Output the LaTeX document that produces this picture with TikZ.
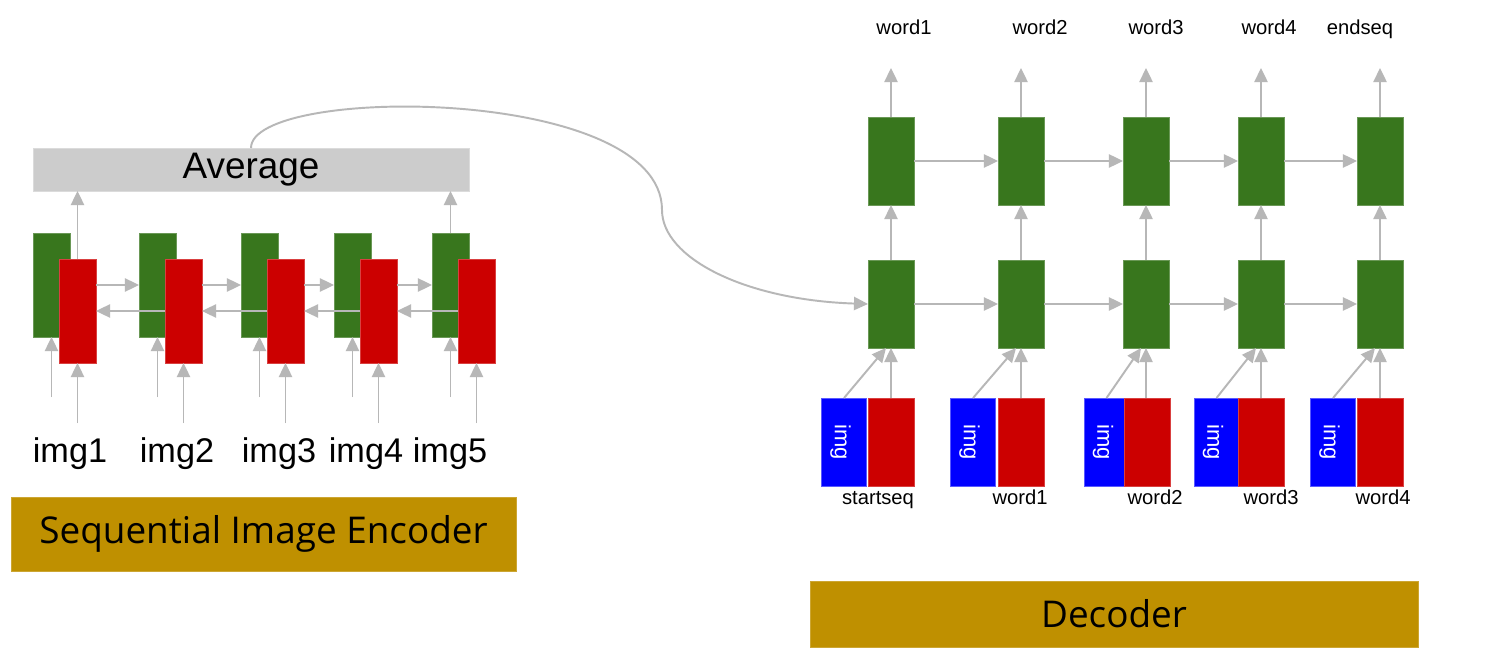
\documentclass[tikz,border=0pt]{standalone}
\usepackage{fontspec}
\setmainfont{Liberation Sans}
\newfontfamily\titlefont{Open Sans}
\usetikzlibrary{arrows.meta}
\definecolor{lstmgreen}{HTML}{38761D}
\definecolor{lstmred}{HTML}{CC0000}
\definecolor{imgblue}{HTML}{0000FF}
\definecolor{avggray}{HTML}{CCCCCC}
\definecolor{bannergold}{HTML}{BF9000}
\definecolor{arrowgray}{HTML}{B7B7B7}
\tikzset{
	cell/.style={inner sep=0, outer sep=0, line width=0.4pt},
	encg/.style={cell, fill=lstmgreen, draw=lstmgreen!75!white, minimum width=0.74cm, minimum height=2.08cm},
	encr/.style={cell, fill=lstmred, draw=lstmred!75!white, minimum width=0.74cm, minimum height=2.08cm},
	decg/.style={cell, fill=lstmgreen, draw=lstmgreen!75!white, minimum width=0.92cm, minimum height=1.76cm},
	decr/.style={cell, fill=lstmred, draw=lstmred!75!white, minimum width=0.92cm, minimum height=1.76cm},
	decb/.style={cell, fill=imgblue, draw=imgblue!65!white, minimum width=0.9cm, minimum height=1.76cm},
	imgtag/.style={text=white, rotate=-90, font=\fontsize{12.5}{14}\selectfont},
	arr/.style={-{Triangle[length=8pt,width=7.5pt]}, line width=1.1pt, draw=arrowgray},
	word/.style={anchor=base, font=\fontsize{11.5}{13}\selectfont},
	imglabel/.style={anchor=base, font=\fontsize{19.5}{22}\selectfont},
	banner/.style={cell, fill=bannergold, draw=bannergold!80!white, font=\titlefont\fontsize{21}{24}\selectfont}
}

\begin{document}
\begin{tikzpicture}[x=0.02cm, y=-0.02cm]
			%%%%% START %%%%%
			
			\fill[white] (0, 0) rectangle (1493, 662);
			\useasboundingbox (0, 0) rectangle (1493, 662);
			
			%% encoder
			\node[cell, fill=avggray, draw=avggray!70!white, minimum width=8.72cm, minimum height=0.86cm, font=\fontsize{21}{24}\selectfont] (avg) at (251, 169.5) {Average};
			
			\node[encg] (eg1) at (51.5, 285) {};
			\node[encg] (eg2) at (157.5, 285) {};
			\node[encg] (eg3) at (259.5, 285) {};
			\node[encg] (eg4) at (352.5, 285) {};
			\node[encg] (eg5) at (450.5, 285) {};
			
			\node[encr] (er1) at (77.5, 311) {};
			\node[encr] (er2) at (183.5, 311) {};
			\node[encr] (er3) at (285.5, 311) {};
			\node[encr] (er4) at (378.5, 311) {};
			\node[encr] (er5) at (476.5, 311) {};
			
			\coordinate (ginrow) at (0, 397);
			\coordinate (rinrow) at (0, 423);
			
			\draw[arr] (eg1.south |- ginrow) -- (eg1.south);
			\draw[arr] (eg2.south |- ginrow) -- (eg2.south);
			\draw[arr] (eg3.south |- ginrow) -- (eg3.south);
			\draw[arr] (eg4.south |- ginrow) -- (eg4.south);
			\draw[arr] (eg5.south |- ginrow) -- (eg5.south);
			
			\draw[arr] (er1.south |- rinrow) -- (er1.south);
			\draw[arr] (er2.south |- rinrow) -- (er2.south);
			\draw[arr] (er3.south |- rinrow) -- (er3.south);
			\draw[arr] (er4.south |- rinrow) -- (er4.south);
			\draw[arr] (er5.south |- rinrow) -- (er5.south);
			
			\draw[arr] (er1.east |- eg1) -- (eg2.west);
			\draw[arr] (er2.east |- eg2) -- (eg3.west);
			\draw[arr] (er3.east |- eg3) -- (eg4.west);
			\draw[arr] (er4.east |- eg4) -- (eg5.west);
			
			\draw[arr] (er2.west) -- (er1.east);
			\draw[arr] (er3.west) -- (er2.east);
			\draw[arr] (er4.west) -- (er3.east);
			\draw[arr] (er5.west) -- (er4.east);
			
			\draw[arr] (er1.north) -- (er1.north |- avg.south);
			\draw[arr] (eg5.north) -- (eg5.north |- avg.south);
			
			\node[imglabel] (img1) at (70, 462) {img1};
			\node[imglabel] (img2) at (177, 462) {img2};
			\node[imglabel] (img3) at (279, 462) {img3};
			\node[imglabel] (img4) at (366, 462) {img4};
			\node[imglabel] (img5) at (450, 462) {img5};
			
			\node[banner, minimum width=10.1cm, minimum height=1.48cm] (encname) at (263.5, 534) {Sequential Image Encoder};
			
			%% decoder
			\node[decg] (dt1) at (891, 161) {};
			\node[decg] (dt2) at (1021, 161) {};
			\node[decg] (dt3) at (1146, 161) {};
			\node[decg] (dt4) at (1261, 161) {};
			\node[decg] (dt5) at (1380, 161) {};
			
			\node[decg] (dm1) at (891, 304) {};
			\node[decg] (dm2) at (1021, 304) {};
			\node[decg] (dm3) at (1146, 304) {};
			\node[decg] (dm4) at (1261, 304) {};
			\node[decg] (dm5) at (1380, 304) {};
			
			\node[decb] (db1) at (844, 442) {};
			\node[decb] (db2) at (973, 442) {};
			\node[decb] (db3) at (1106.5, 442) {};
			\node[decb] (db4) at (1216.5, 442) {};
			\node[decb] (db5) at (1333, 442) {};
			
			\node[imgtag] (tag1) at ([xshift=-0.07cm]db1.center) {img};
			\node[imgtag] (tag2) at ([xshift=-0.07cm]db2.center) {img};
			\node[imgtag] (tag3) at ([xshift=-0.07cm]db3.center) {img};
			\node[imgtag] (tag4) at ([xshift=-0.07cm]db4.center) {img};
			\node[imgtag] (tag5) at ([xshift=-0.07cm]db5.center) {img};
			
			\node[decr] (dr1) at (891, 442) {};
			\node[decr] (dr2) at (1021, 442) {};
			\node[decr] (dr3) at (1147.5, 442) {};
			\node[decr] (dr4) at (1261.5, 442) {};
			\node[decr] (dr5) at (1380, 442) {};
			
			\draw[arr] (db1.north) -- ([xshift=-0.1cm]dm1.south);
			\draw[arr] (db2.north) -- ([xshift=-0.1cm]dm2.south);
			\draw[arr] (db3.north) -- ([xshift=-0.1cm]dm3.south);
			\draw[arr] (db4.north) -- ([xshift=-0.1cm]dm4.south);
			\draw[arr] (db5.north) -- ([xshift=-0.1cm]dm5.south);
			
			\draw[arr] (dr1.north) -- (dm1.south);
			\draw[arr] (dr2.north) -- (dm2.south);
			\draw[arr] (dr3.north -| dm3) -- (dm3.south);
			\draw[arr] (dr4.north -| dm4) -- (dm4.south);
			\draw[arr] (dr5.north) -- (dm5.south);
			
			\draw[arr] (dm1.east) -- (dm2.west);
			\draw[arr] (dm2.east) -- (dm3.west);
			\draw[arr] (dm3.east) -- (dm4.west);
			\draw[arr] (dm4.east) -- (dm5.west);
			
			\draw[arr] (dt1.east) -- (dt2.west);
			\draw[arr] (dt2.east) -- (dt3.west);
			\draw[arr] (dt3.east) -- (dt4.west);
			\draw[arr] (dt4.east) -- (dt5.west);
			
			\draw[arr] (dm1.north) -- (dt1.south);
			\draw[arr] (dm2.north) -- (dt2.south);
			\draw[arr] (dm3.north) -- (dt3.south);
			\draw[arr] (dm4.north) -- (dt4.south);
			\draw[arr] (dm5.north) -- (dt5.south);
			
			\coordinate (outrow) at (0, 68);
			\draw[arr] (dt1.north) -- (dt1.north |- outrow);
			\draw[arr] (dt2.north) -- (dt2.north |- outrow);
			\draw[arr] (dt3.north) -- (dt3.north |- outrow);
			\draw[arr] (dt4.north) -- (dt4.north |- outrow);
			\draw[arr] (dt5.north) -- (dt5.north |- outrow);
			
			\node[word] (out1) at (904, 35) {word1};
			\node[word] (out2) at (1040, 35) {word2};
			\node[word] (out3) at (1156, 35) {word3};
			\node[word] (out4) at (1269, 35) {word4};
			\node[word] (out5) at (1360, 35) {endseq};
			
			\node[word] (in1) at (878, 504) {startseq};
			\node[word] (in2) at (1020, 504) {word1};
			\node[word] (in3) at (1155, 504) {word2};
			\node[word] (in4) at (1271, 504) {word3};
			\node[word] (in5) at (1383, 504) {word4};
			
			\node[banner, minimum width=12.16cm, minimum height=1.32cm] (decname) at (1114, 614) {Decoder};
			
			%% average feeds the first decoder cell
			\coordinate (bend) at (662, 210);
			\draw[arr] (avg.north) .. controls (251, 85) and (662, 85) .. (bend) .. controls (662, 258) and (745, 300) .. (dm1.west);
			
			%%%%% END %%%%%
\end{tikzpicture}
\end{document}
